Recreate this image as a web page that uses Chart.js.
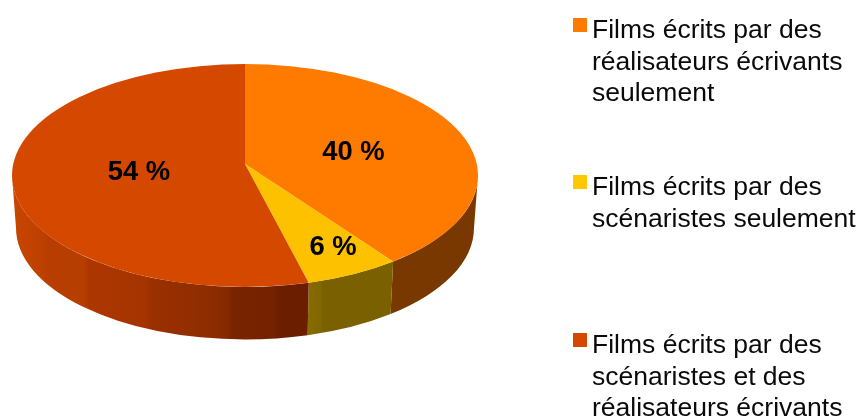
<!DOCTYPE html>
<html lang="fr">
<head>
<meta charset="utf-8">
<style>html,body{margin:0;padding:0;background:#fff;overflow:hidden}canvas{display:block}</style>
<script src="https://cdn.jsdelivr.net/npm/chart.js@4"></script>
</head>
<body>
<canvas id="c" width="866" height="416"></canvas>
<script>
const categories = [
  ['Films écrits par des', 'réalisateurs écrivants', 'seulement'],
  ['Films écrits par des', 'scénaristes seulement'],
  ['Films écrits par des', 'scénaristes et des', 'réalisateurs écrivants']
];
const values = [40, 6, 54];
const topColors = ['#FF7B00', '#FDC100', '#D54800'];
const legendColors = ['#FF7B00', '#FFC800', '#D54800'];

const rim = {cx: 245, cy: 175.5, rx: 233, ry: 111.5};
const foot = {cx: 245, cy: 228, rx: 229, ry: 111.5};
const apex = {x: 245, y: 164};
const cover = 1.2;

function rimParam(theta) {
  const oy = (apex.y - rim.cy) / rim.ry;
  const dx = Math.cos(theta), dy = Math.sin(theta);
  const b = oy * dy, c = oy * oy - 1;
  const t = -b + Math.sqrt(b * b - c);
  let p = Math.atan2(oy + t * dy, t * dx);
  return p + 2 * Math.PI * Math.round((theta - p) / (2 * Math.PI));
}

function wallFill(ctx, i) {
  if (i === 0) return '#793800';
  const g = i === 1 ? ctx.createLinearGradient(309, 0, 392, 0) : ctx.createLinearGradient(12, 0, 309, 0);
  const stops = i === 1
    ? [[0, '#866B00'], [0.14, '#826600'], [0.17, '#7B6000'], [1, '#7B6000']]
    : [[0, '#C84600'], [0.08, '#C04200'], [0.12, '#B83E00'], [0.24, '#B53E00'], [0.26, '#AD3600'], [0.45, '#A53400'],
       [0.47, '#9A3000'], [0.66, '#8F2D00'], [0.73, '#842800'], [0.74, '#7A2400'],
       [0.88, '#752200'], [0.9, '#6B1E00'], [1, '#6B1E00']];
  stops.forEach(s => g.addColorStop(s[0], s[1]));
  return g;
}

const pie3d = {
  id: 'pie3d',
  beforeDatasetsDraw(chart) {
    const ctx = chart.ctx;
    const arcs = chart.getDatasetMeta(0).data;
    arcs.forEach((arc, i) => {
      const a = Math.max(rimParam(arc.startAngle), 0);
      const b = Math.min(rimParam(arc.endAngle), Math.PI);
      if (b <= a) return;
      ctx.beginPath();
      ctx.ellipse(rim.cx, rim.cy, rim.rx, rim.ry, 0, a, b);
      ctx.ellipse(foot.cx, foot.cy, foot.rx, foot.ry, 0, b, a, true);
      ctx.closePath();
      ctx.fillStyle = wallFill(ctx, i);
      ctx.fill();
    });
    const r = arcs[0].outerRadius;
    ctx.save();
    ctx.beginPath();
    ctx.ellipse(rim.cx, rim.cy, rim.rx, rim.ry, 0, 0, Math.PI * 2);
    ctx.clip();
    ctx.translate(apex.x, apex.y);
    ctx.scale(cover * rim.rx / r, cover * rim.ry / r);
    ctx.translate(-arcs[0].x, -arcs[0].y);
  },
  afterDatasetsDraw(chart) {
    chart.ctx.restore();
  }
};

const labelsAndLegend = {
  id: 'labelsAndLegend',
  afterDraw(chart) {
    const ctx = chart.ctx;
    ctx.save();
    ctx.fillStyle = '#000';
    ctx.textAlign = 'center';
    ctx.textBaseline = 'alphabetic';
    ctx.font = 'bold 27.4px "Liberation Sans"';
    const spots = [[353.5, 160], [333, 254.5], [139, 179.5]];
    values.forEach((v, i) => ctx.fillText(v + ' %', spots[i][0], spots[i][1]));
    ctx.textAlign = 'left';
    ctx.font = '26.5px "Liberation Sans"';
    const tops = [38, 195, 353];
    categories.forEach((lines, i) => {
      ctx.fillStyle = legendColors[i];
      ctx.fillRect(573, tops[i] - 20, 14, 14);
      ctx.fillStyle = '#0a0a0a';
      lines.forEach((t, j) => ctx.fillText(t, 592, tops[i] + j * 31.5));
    });
    ctx.restore();
  }
};

new Chart(document.getElementById('c'), {
  type: 'pie',
  data: {
    labels: categories.map(l => l.join(' ')),
    datasets: [{data: values, backgroundColor: topColors, borderWidth: 0, clip: false}]
  },
  options: {
    responsive: false,
    animation: false,
    layout: {padding: 0},
    plugins: {legend: {display: false}, tooltip: {enabled: false}, title: {display: false}}
  },
  plugins: [pie3d, labelsAndLegend]
});
</script>
</body>
</html>
